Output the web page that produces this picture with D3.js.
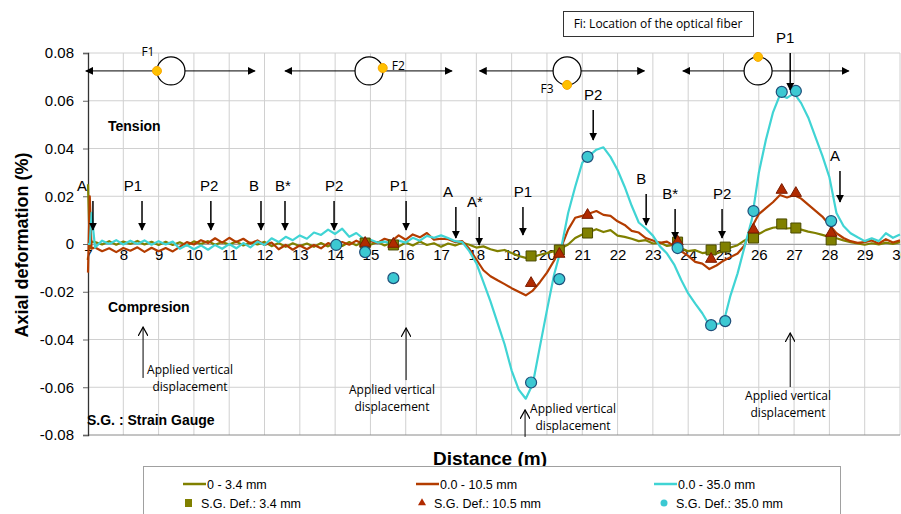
<!DOCTYPE html>
<html>
<head>
<meta charset="utf-8">
<script src="https://cdn.jsdelivr.net/npm/d3@7"></script>
<style>
  body { margin: 0; background: #fff; }
  svg { display: block; }
  text { font-family: "Liberation Sans", Arial, sans-serif; fill: #000; }
  .note { font-family: "Open Sans", "Noto Sans", sans-serif; font-size: 12px; }
  .legend text { font-family: "Liberation Sans Narrow", "Liberation Sans", sans-serif; font-size: 12.5px; }
</style>
</head>
<body>
<div id="chart"></div>
<script>
const width = 901;
const height = 514;

// distance along the pipe (m)
const dist = [7, 7.05, 7.1,
  7.2, 7.4, 7.6, 7.8, 8, 8.2, 8.4, 8.6, 8.8, 9,
  9.2, 9.4, 9.6, 9.8, 10, 10.2, 10.4, 10.6, 10.8, 11,
  11.2, 11.4, 11.6, 11.8, 12, 12.2, 12.4, 12.6, 12.8, 13,
  13.2, 13.4, 13.6, 13.8, 14, 14.2, 14.4, 14.6, 14.8, 15,
  15.2, 15.4, 15.6, 15.8, 16, 16.2, 16.4, 16.6, 16.8, 17,
  17.2, 17.4, 17.6, 17.8, 18, 18.2, 18.4, 18.6, 18.8, 19,
  19.2, 19.4, 19.6, 19.8, 20, 20.2, 20.4, 20.6, 20.8, 21,
  21.2, 21.4, 21.6, 21.8, 22, 22.2, 22.4, 22.6, 22.8, 23,
  23.2, 23.4, 23.6, 23.8, 24, 24.2, 24.4, 24.6, 24.8, 25,
  25.2, 25.4, 25.6, 25.8, 26, 26.2, 26.4, 26.6, 26.8, 27,
  27.2, 27.4, 27.6, 27.8, 28, 28.2, 28.4, 28.6, 28.8, 29,
  29.2, 29.4, 29.6, 29.8, 30];

// optical fiber, 0 - 3.4 mm
const def34 = [0.025, -0.002, 0.001,
  0.0008, -0.0002, 0.0012, -0.0003, 0.001, 0.0, 0.0013, -0.0002, 0.0009, -0.0004,
  0.0009, -0.0004, 0.0007, -0.0006, 0.0011, 0.0, 0.0012, -0.0003, 0.0008, -0.0002,
  0.001, -0.0006, 0.0006, -0.0002, 0.0009, -0.0009, 0.0004, -0.0012, 0.0003, -0.0009,
  0.0002, -0.0012, 0.0004, -0.001, 0.0006, -0.0008, 0.0008, -0.0005, 0.001, -0.0003,
  0.0008, -0.0006, 0.0005, -0.0011, 0.0006, -0.0006, 0.001, -0.0004, 0.0003, -0.0012,
  0.0002, -0.0006, 0.0005, -0.0003, -0.0015, -0.001, -0.0022, -0.003, -0.0025, -0.0038,
  -0.005, -0.0058, -0.0055, -0.0045, -0.0038, -0.003, -0.0018, -0.0002, 0.0025, 0.004,
  0.005, 0.0062, 0.005, 0.0058, 0.0035, 0.003, 0.0022, 0.0012, 0.0016, 0.0002,
  0.0006, -0.0008, -0.0004, -0.0018, -0.003, -0.0026, -0.0038, -0.0034, -0.004, -0.003,
  -0.0015, -0.0005, 0.0015, 0.003, 0.0042, 0.0058, 0.0068, 0.0072, 0.0065, 0.0068,
  0.006, 0.0052, 0.0046, 0.0038, 0.003, 0.0024, 0.0015, 0.0008, 0.0002, -0.0003,
  0.0003, -0.0002, 0.0006, 0.0, 0.0008];

// optical fiber, 0.0 - 10.5 mm
const def105 = [-0.012, 0.02, -0.002,
  -0.0015, -0.003, -0.0018, -0.0034, -0.0017, -0.0028, -0.0014, -0.0033, -0.0016, -0.003,
  -0.0017, -0.0031, -0.0012, 0.0008, -0.0002, 0.0016, 0.0004, 0.0024, 0.0006, 0.0026,
  0.0008, 0.0022, 0.0002, 0.0015, -0.0004, 0.0006, -0.0022, -0.0004, -0.0024, -0.0006,
  -0.0022, -0.0004, -0.0018, 0.0004, -0.0008, 0.0008, -0.0003, 0.0014, 0.0, 0.0012,
  0.0004, 0.0022, 0.0012, 0.0036, 0.0018, 0.004, 0.0028, 0.0046, 0.0018, 0.0022,
  0.002, 0.0008, 0.0012, -0.002, -0.0065, -0.011, -0.0135, -0.0152, -0.0168, -0.0185,
  -0.02, -0.0215, -0.0195, -0.016, -0.012, -0.007, -0.0015, 0.006, 0.011, 0.0118,
  0.0128, 0.0138, 0.0122, 0.0118, 0.0095, 0.008, 0.0055, 0.0048, 0.0025, 0.0015,
  0.0005, 0.001, -0.0008, -0.003, -0.005, -0.0075, -0.0082, -0.0105, -0.009, -0.007,
  -0.0055, -0.004, -0.0005, 0.007, 0.0125, 0.015, 0.0175, 0.0205, 0.0195, 0.0205,
  0.019, 0.0165, 0.014, 0.0115, 0.008, 0.0045, 0.0025, 0.0012, 0.0005, 0.0008,
  0.0015, 0.0002, 0.002, 0.0006, 0.0015];

// optical fiber, 0.0 - 35.0 mm
const def350 = [0.0, 0.0, 0.013,
  -0.0015, 0.0014, 0.0, 0.0016, -0.0002, 0.0014, 0.0, 0.0015, -0.0003, 0.0012,
  -0.0002, 0.001, -0.002, -0.0004, -0.0022, -0.0006, -0.0024, -0.0004, -0.002, 0.0,
  -0.0018, 0.0004, -0.0014, 0.001, -0.0004, 0.0024, 0.0008, 0.003, 0.0016, 0.0036,
  0.0022, 0.0048, 0.0038, 0.006, 0.0042, 0.0064, 0.003, 0.0046, 0.0022, 0.0018,
  0.0006, 0.001, 0.0002, 0.0014, 0.0006, 0.0026, 0.0014, 0.0034, 0.0026, 0.0036,
  0.0025, 0.0012, 0.0008, -0.003, -0.008, -0.016, -0.024, -0.033, -0.042, -0.053,
  -0.061, -0.0648, -0.0585, -0.043, -0.0277, -0.013, -0.002, 0.013, 0.024, 0.034,
  0.037, 0.0395, 0.0405, 0.0365, 0.031, 0.024, 0.016, 0.009, 0.0065, 0.0035,
  -0.001, -0.004, -0.0085, -0.015, -0.0207, -0.025, -0.029, -0.034, -0.0335, -0.033,
  -0.0215, -0.0123, -0.001, 0.01, 0.0297, 0.0436, 0.055, 0.0625, 0.0612, 0.0632,
  0.059, 0.053, 0.045, 0.037, 0.028, 0.013, 0.0075, 0.0045, 0.0028, 0.0012,
  0.0024, 0.0012, 0.0045, 0.0026, 0.004];

// strain gauge readings
const sgDist34 = [14.85, 15.65, 19.55, 20.35, 21.15, 23.7, 24.65, 25.05, 25.85, 26.65, 27.05, 28.05];
const sg34 = [0.0004, -0.0004, -0.005, -0.0025, 0.0046, 0.0008, -0.0025, -0.0013, 0.0025, 0.0084, 0.0067, 0.0017];
const sgDist105 = [14.85, 15.65, 19.55, 20.35, 21.15, 23.7, 24.65, 25.85, 26.65, 27.05, 28.05];
const sg105 = [0.0004, 0.0, -0.0164, -0.0042, 0.0121, 0.001, -0.0063, 0.006, 0.0226, 0.0213, 0.0046];
const sgDist350 = [14.03, 14.85, 15.65, 19.55, 20.35, 21.15, 23.7, 24.65, 25.05, 25.85, 26.65, 27.05, 28.05];
const sg350 = [-0.0004, -0.0034, -0.0143, -0.058, -0.0147, 0.0365, -0.0017, -0.034, -0.0323, 0.0138, 0.0637, 0.0641, 0.0096];

const xTicks = d3.range(7, 31);
const yTicks = [-0.08, -0.06, -0.04, -0.02, 0, 0.02, 0.04, 0.06, 0.08];

// section markers: label, arrow distance, label distance, arrow top / bottom value
const markers = [
  ["A", 7.14, 6.83, 0.018, 0.0059],
  ["P1", 8.53, 8.27, 0.018, 0.0059],
  ["P2", 10.48, 10.43, 0.018, 0.0059],
  ["B", 11.9, 11.7, 0.018, 0.0059],
  ["B*", 12.58, 12.52, 0.018, 0.0059],
  ["P2", 13.97, 13.97, 0.018, 0.0059],
  ["P1", 16.01, 15.81, 0.018, 0.0059],
  ["A", 17.42, 17.2, 0.0155, 0.0025],
  ["A*", 18.08, 17.96, 0.0113, -0.0004],
  ["P1", 19.32, 19.32, 0.0155, 0.0038],
  ["P2", 21.31, 21.31, 0.0561, 0.0436],
  ["B", 22.81, 22.67, 0.0209, 0.008],
  ["B*", 23.63, 23.49, 0.0147, 0.0021],
  ["P2", 24.96, 24.96, 0.0147, 0.0025],
  ["P1", 26.89, 26.75, 0.08, 0.0645],
  ["A", 28.3, 28.16, 0.0306, 0.0176]
];

// applied load arrows: arrow distance, bottom / top value, text distance, text value
const loads = [
  [8.56, -0.0561, -0.0348, 9.89, -0.0543],
  [16.01, -0.057, -0.0352, 15.61, -0.0627],
  [19.38, -0.0808, -0.0695, 20.74, -0.0707],
  [26.89, -0.0599, -0.0373, 26.83, -0.0652]
];

// pipe cross sections: arrow span, circle centre, fiber angle (deg), fiber label
const sections = [
  [6.94, 11.73, 9.35, 180, "F1"],
  [12.58, 17.31, 14.96, -12, "F2"],
  [18.09, 22.76, 20.57, 90, "F3"],
  [23.85, 28.55, 25.98, -90, ""]
];

const colors = { c34: "#808000", c105: "#b33c00", c350: "#40d4d4" };

const svg = d3.select("#chart").append("svg")
  .attr("width", width)
  .attr("height", height);

const x = d3.scaleLinear().domain([7, 30]).range([88, 900]);
const y = d3.scaleLinear().domain([-0.08, 0.08]).range([435, 53]);

// grid
svg.append("g").selectAll("line").data(xTicks.slice(1)).enter().append("line")
  .attr("x1", d => x(d)).attr("x2", d => x(d))
  .attr("y1", y(0.08)).attr("y2", y(-0.08))
  .attr("stroke", "#d0d0d0").attr("stroke-width", 1);
svg.append("g").selectAll("line").data(yTicks).enter().append("line")
  .attr("x1", x(7)).attr("x2", x(30))
  .attr("y1", d => y(d)).attr("y2", d => y(d))
  .attr("stroke", d => d === -0.08 ? "#8a8a8a" : "#d0d0d0").attr("stroke-width", 1);

// y axis
const yAxis = svg.append("g")
  .attr("transform", "translate(" + x(7) + ",0)")
  .call(d3.axisLeft(y).tickValues(yTicks).tickSize(5).tickPadding(9)
    .tickFormat(d => d === 0 ? "0" : d.toFixed(2)));
yAxis.select(".domain").attr("stroke", "#333").attr("stroke-width", 1.3);
yAxis.selectAll(".tick line").attr("stroke", "#666");
yAxis.selectAll("text").style("font-size", "15px").attr("fill", "#000");

// x axis on the zero line
const xAxis = svg.append("g")
  .attr("transform", "translate(0," + y(0) + ")")
  .call(d3.axisBottom(x).tickValues(xTicks).tickSize(0).tickPadding(5).tickFormat(d3.format("d")));
xAxis.select(".domain").attr("stroke", "#a0a0a0");
xAxis.selectAll("text").style("font-size", "15px").attr("fill", "#000");

// axis titles
svg.append("text")
  .attr("transform", "translate(28," + 245 + ") rotate(-90)")
  .attr("text-anchor", "middle")
  .style("font-size", "18px").style("font-weight", "bold")
  .text("Axial deformation (%)");
svg.append("text")
  .attr("x", 490).attr("y", 465)
  .attr("text-anchor", "middle")
  .style("font-size", "19px").style("font-weight", "bold")
  .text("Distance (m)");

// side labels
svg.append("text").attr("x", 108).attr("y", 131)
  .style("font-size", "14px").style("font-weight", "bold").text("Tension");
svg.append("text").attr("x", 108).attr("y", 312)
  .style("font-size", "14px").style("font-weight", "bold").text("Compresion");
svg.append("text").attr("x", 87).attr("y", 425)
  .style("font-size", "14px").style("font-weight", "bold").text("S.G. : Strain Gauge");

// arrowheads
const defs = svg.append("defs");
defs.append("marker")
  .attr("id", "head").attr("viewBox", "0 0 10 10")
  .attr("refX", 9).attr("refY", 5)
  .attr("markerWidth", 8).attr("markerHeight", 8)
  .attr("markerUnits", "userSpaceOnUse")
  .attr("orient", "auto-start-reverse")
  .append("path").attr("d", "M0,0L10,5L0,10Z").attr("fill", "#000");
defs.append("marker")
  .attr("id", "open").attr("viewBox", "0 0 10 10")
  .attr("refX", 9).attr("refY", 5)
  .attr("markerWidth", 10).attr("markerHeight", 10)
  .attr("markerUnits", "userSpaceOnUse")
  .attr("orient", "auto")
  .append("path").attr("d", "M0,0L9,5L0,10").attr("fill", "none").attr("stroke", "#000").attr("stroke-width", 1.2);

// pipe cross sections on top
const sec = svg.append("g");
sections.forEach(s => {
  const yy = y(0.0725);
  sec.append("line")
    .attr("x1", x(s[0])).attr("x2", x(s[1]))
    .attr("y1", yy).attr("y2", yy)
    .attr("stroke", "#000").attr("stroke-width", 1)
    .attr("marker-start", "url(#head)").attr("marker-end", "url(#head)");
  const cx = x(s[2]);
  sec.append("circle").attr("cx", cx).attr("cy", yy).attr("r", 14)
    .attr("fill", "#fff").attr("stroke", "#000").attr("stroke-width", 1.2);
  const a = s[3] * Math.PI / 180;
  const fx = cx + 14 * Math.cos(a), fy = yy + 14 * Math.sin(a);
  sec.append("circle").attr("cx", fx).attr("cy", fy).attr("r", 4.5)
    .attr("fill", "#ffc000").attr("stroke", "#f7a600").attr("stroke-width", 1);
  if (s[4] === "F1") {
    sec.append("text").attr("class", "note").attr("x", fx - 9).attr("y", yy - 15)
      .attr("text-anchor", "middle").text(s[4]);
  } else if (s[4] === "F2") {
    sec.append("text").attr("class", "note").attr("x", fx + 9).attr("y", fy + 2).text(s[4]);
  } else if (s[4] === "F3") {
    sec.append("text").attr("class", "note").attr("x", fx - 20).attr("y", fy + 8)
      .attr("text-anchor", "middle").text(s[4]);
  }
});

// legend box for fiber location
svg.append("rect").attr("x", 563.5).attr("y", 11.5).attr("width", 190).attr("height", 25)
  .attr("fill", "#fff").attr("stroke", "#333").attr("stroke-width", 1);
svg.append("text").attr("class", "note").attr("x", 658).attr("y", 28)
  .attr("text-anchor", "middle").text("Fi: Location of the optical fiber");

// fiber lines
const line = d3.line().x((d, i) => x(dist[i])).y(d => y(d));
[[def34, colors.c34], [def105, colors.c105], [def350, colors.c350]].forEach(s => {
  svg.append("path").datum(s[0])
    .attr("d", line)
    .attr("fill", "none")
    .attr("stroke", s[1]).attr("stroke-width", 2.2)
    .attr("stroke-linejoin", "round");
});

// strain gauge points
const sq = d3.symbol().type(d3.symbolSquare).size(100);
const tri = d3.symbol().type(d3.symbolTriangle).size(55);
svg.append("g").selectAll("path").data(sg34).enter().append("path")
  .attr("d", sq)
  .attr("transform", (d, i) => "translate(" + x(sgDist34[i]) + "," + y(d) + ")")
  .attr("fill", "#808000").attr("stroke", "#4a4a00").attr("stroke-width", 1);
svg.append("g").selectAll("path").data(sg105).enter().append("path")
  .attr("d", tri)
  .attr("transform", (d, i) => "translate(" + x(sgDist105[i]) + "," + y(d) + ")")
  .attr("fill", "#b02a00").attr("stroke", "#7a1c00").attr("stroke-width", 1);
svg.append("g").selectAll("circle").data(sg350).enter().append("circle")
  .attr("cx", (d, i) => x(sgDist350[i]))
  .attr("cy", d => y(d))
  .attr("r", 5.5)
  .attr("fill", "#3cc8d2").attr("stroke", "#1f4e79").attr("stroke-width", 1.2);

// section arrows A, B, P1, P2...
const ann = svg.append("g");
markers.forEach(m => {
  ann.append("line")
    .attr("x1", x(m[1])).attr("x2", x(m[1]))
    .attr("y1", y(m[3])).attr("y2", y(m[4]))
    .attr("stroke", "#000").attr("stroke-width", 1.5)
    .attr("marker-end", "url(#head)");
  ann.append("text")
    .attr("x", x(m[2])).attr("y", y(m[3]) - 10)
    .attr("text-anchor", "middle")
    .style("font-size", "15px")
    .text(m[0]);
});

// applied vertical displacement notes
loads.forEach(l => {
  ann.append("line")
    .attr("x1", x(l[0])).attr("x2", x(l[0]))
    .attr("y1", y(l[1])).attr("y2", y(l[2]))
    .attr("stroke", "#000").attr("stroke-width", 1)
    .attr("marker-end", "url(#open)");
  const t = ann.append("text").attr("class", "note")
    .attr("x", x(l[3])).attr("y", y(l[4]))
    .attr("text-anchor", "middle");
  t.append("tspan").attr("x", x(l[3])).attr("dy", 0).text("Applied vertical");
  t.append("tspan").attr("x", x(l[3])).attr("dy", 17).text("displacement");
});

// legend
const legendItems = [
  { label: "0 - 3.4 mm", type: "line", color: colors.c34, lx: 183, row: 0 },
  { label: "0.0 - 10.5 mm", type: "line", color: colors.c105, lx: 416, row: 0 },
  { label: "0.0 - 35.0 mm", type: "line", color: colors.c350, lx: 654, row: 0 },
  { label: "S.G. Def.: 3.4 mm", type: "square", color: "#808000", lx: 185, row: 1 },
  { label: "S.G. Def.: 10.5 mm", type: "triangle", color: "#b02a00", lx: 418, row: 1 },
  { label: "S.G. Def.: 35.0 mm", type: "circle", color: "#3cc8d2", lx: 660, row: 1 }
];
const lg = svg.append("g").attr("class", "legend");
lg.append("rect").attr("x", 143.5).attr("y", 466.5).attr("width", 697).attr("height", 60)
  .attr("fill", "#fff").attr("stroke", "#a0a0a0");
legendItems.forEach(it => {
  const yy = it.row === 0 ? 484 : 503;
  if (it.type === "line") {
    lg.append("line").attr("x1", it.lx).attr("x2", it.lx + 23).attr("y1", yy).attr("y2", yy)
      .attr("stroke", it.color).attr("stroke-width", 2.5);
    lg.append("text").attr("x", it.lx + 24).attr("y", yy + 5).text(it.label);
  } else {
    if (it.type === "square") {
      lg.append("rect").attr("x", it.lx).attr("y", yy - 4).attr("width", 7).attr("height", 8)
        .attr("fill", it.color);
    } else if (it.type === "triangle") {
      lg.append("path").attr("d", d3.symbol().type(d3.symbolTriangle).size(28))
        .attr("transform", "translate(" + (it.lx + 4) + "," + yy + ")").attr("fill", it.color);
    } else {
      lg.append("circle").attr("cx", it.lx + 4).attr("cy", yy).attr("r", 3.5).attr("fill", it.color);
    }
    lg.append("text").attr("x", it.lx + 16).attr("y", yy + 5).text(it.label);
  }
});
</script>
</body>
</html>
